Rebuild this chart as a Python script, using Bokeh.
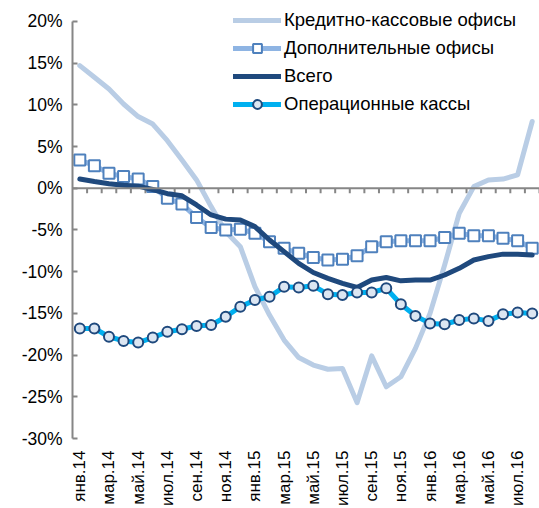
import numpy as np
from bokeh.plotting import figure
from bokeh.models import ColumnDataSource, FixedTicker, Span, Legend, LegendItem, Range1d
from bokeh.embed import file_html
from bokeh.resources import INLINE

months = ["янв.14", "фев.14", "мар.14", "апр.14", "май.14", "июн.14", "июл.14", "авг.14",
          "сен.14", "окт.14", "ноя.14", "дек.14", "янв.15", "фев.15", "мар.15", "апр.15",
          "май.15", "июн.15", "июл.15", "авг.15", "сен.15", "окт.15", "ноя.15", "дек.15",
          "янв.16", "фев.16", "мар.16", "апр.16", "май.16", "июн.16", "июл.16", "авг.16"]

kko = [14.7, 13.3, 11.9, 10.1, 8.6, 7.7, 5.7, 3.4, 1.0, -2.2, -5.2, -7.0, -11.8, -15.2, -18.2, -20.3,
       -21.2, -21.7, -21.6, -25.7, -20.1, -23.8, -22.6, -19.2, -15.0, -9.2, -3.0, 0.2, 1.0, 1.1, 1.6, 8.0]
dop = [3.4, 2.7, 1.8, 1.4, 1.1, 0.2, -1.2, -1.9, -3.5, -4.7, -5.0, -4.9, -5.4, -6.4, -7.2, -7.8,
       -8.3, -8.6, -8.5, -8.1, -7.0, -6.4, -6.3, -6.3, -6.3, -5.9, -5.4, -5.7, -5.7, -6.0, -6.3, -7.2]
total = [1.1, 0.8, 0.55, 0.35, 0.25, -0.15, -0.65, -0.9, -2.0, -3.2, -3.7, -3.8, -4.6, -6.2, -7.6, -9.0,
         -10.1, -10.8, -11.4, -11.9, -11.0, -10.7, -11.1, -11.0, -11.0, -10.4, -9.6, -8.6, -8.2, -7.9, -7.9, -8.0]
oper = [-16.8, -16.8, -17.8, -18.3, -18.5, -17.9, -17.2, -16.9, -16.5, -16.4, -15.4, -14.2, -13.4, -13.0, -11.8, -11.9,
        -11.7, -12.7, -12.8, -12.5, -12.5, -12.0, -13.9, -15.3, -16.2, -16.3, -15.8, -15.6, -15.9, -15.1, -14.9, -15.0]

y_ticks = [-30, -25, -20, -15, -10, -5, 0, 5, 10, 15, 20]
names = ["Кредитно-кассовые офисы", "Дополнительные офисы", "Всего", "Операционные кассы"]

FONT = "Liberation Sans"
x = list(range(len(months)))
src = ColumnDataSource(dict(x=x, kko=kko, dop=dop, total=total, oper=oper))

p = figure(width=539, height=508, output_backend="svg", toolbar_location=None,
           x_range=Range1d(-0.5, len(months) - 0.5), y_range=Range1d(-30, 22.03),
           min_border_left=72, min_border_right=0, min_border_top=4, min_border_bottom=69)
p.outline_line_color = None
p.grid.visible = False
p.background_fill_color = "white"
p.border_fill_color = "white"

# x axis: labels only at bottom
p.xaxis.ticker = FixedTicker(ticks=x[::2])
p.xaxis.major_label_overrides = {i: months[i] for i in x}
p.xaxis.major_label_orientation = np.pi / 2
p.xaxis.axis_line_color = None
p.xaxis.major_tick_line_color = None
p.xaxis.minor_tick_line_color = None
p.xaxis.major_label_text_font = FONT
p.xaxis.major_label_text_font_size = "17px"
p.xaxis.major_label_text_color = "black"
p.xaxis.major_label_standoff = 6

# y axis
p.yaxis.ticker = FixedTicker(ticks=y_ticks)
p.yaxis.bounds = (y_ticks[0], y_ticks[-1])
p.yaxis.major_label_overrides = {t: f"{t}%" for t in y_ticks}
p.yaxis.axis_line_color = "#868686"
p.yaxis.axis_line_width = 2
p.yaxis.major_tick_line_color = "#868686"
p.yaxis.major_tick_line_width = 2
p.yaxis.major_tick_in = 5
p.yaxis.major_tick_out = 0
p.yaxis.minor_tick_line_color = None
p.yaxis.major_label_text_font = FONT
p.yaxis.major_label_text_font_size = "17.5px"
p.yaxis.major_label_text_color = "black"
p.yaxis.major_label_standoff = 10

# zero line with category tick marks
p.add_layout(Span(location=0, dimension="width", line_color="#868686", line_width=2))
bx = [i + 0.5 for i in x]
p.segment(x0=bx, x1=bx, y0=[0] * len(bx), y1=[-0.6] * len(bx), line_color="#868686", line_width=2)

r1 = p.line("x", "kko", source=src, line_color="#B9CDE5", line_width=5, line_join="round", line_cap="round")
r2 = p.line("x", "dop", source=src, line_color="#8EB4E3", line_width=5, line_join="round", line_cap="round")
r2m = p.scatter("x", "dop", source=src, marker="square", size=11, fill_color="white",
                line_color="#4F81BD", line_width=2)
r3 = p.line("x", "total", source=src, line_color="#1F497D", line_width=5, line_join="round", line_cap="round")
r4 = p.line("x", "oper", source=src, line_color="#00B0F0", line_width=5, line_join="round", line_cap="round")
r4m = p.scatter("x", "oper", source=src, marker="circle", size=10, fill_color="#DCE6F2",
                line_color="#1F497D", line_width=2)

legend = Legend(items=[LegendItem(label=names[0], renderers=[r1]),
                       LegendItem(label=names[1], renderers=[r2, r2m]),
                       LegendItem(label=names[2], renderers=[r3]),
                       LegendItem(label=names[3], renderers=[r4, r4m])],
                location=(161, 323))
legend.glyph_width = 48
legend.glyph_height = 22
legend.label_height = 22
legend.spacing = 6
legend.padding = 0
legend.margin = 0
legend.label_standoff = 3
legend.label_text_font = FONT
legend.label_text_font_size = "18.5px"
legend.label_text_color = "black"
legend.border_line_color = None
legend.background_fill_alpha = 0
p.add_layout(legend)

open("out.html", "w").write(file_html(p, INLINE))
